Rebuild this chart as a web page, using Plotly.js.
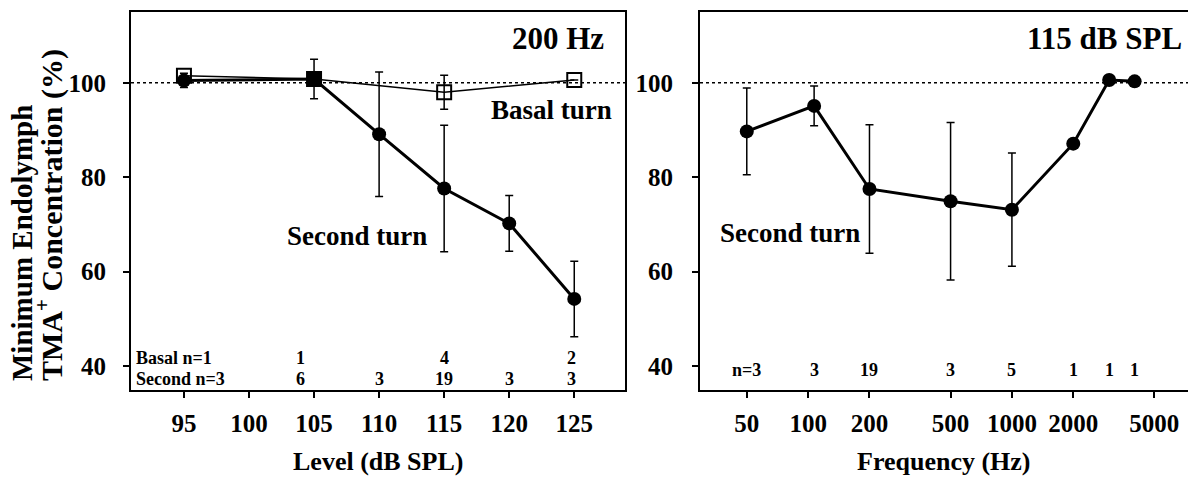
<!DOCTYPE html>
<html>
<head>
<meta charset="utf-8">
<script src="https://cdn.plot.ly/plotly-3.0.1.min.js"></script>
<style>html,body{margin:0;padding:0;background:#fff;}#plot{width:1188px;height:477px;}</style>
</head>
<body>
<div id="plot"></div>
<script>
// ---------- data ----------
var levelTicks = [95, 100, 105, 110, 115, 120, 125];
var secondLevels = [95, 105, 110, 115, 120, 125];
var secondMean   = [100.5, 100.8, 89.1, 77.6, 70.2, 54.2];
var secondErr    = [1.5, 4.2, 13.2, 13.4, 5.9, 8.0];
var secondN      = [3, 6, 3, 19, 3, 3];

var basalLevels = [95, 105, 115, 125];
var basalMean   = [101.5, 100.8, 98.0, 100.6];
var basalErr    = [null, null, 3.6, null];
var basalN      = [1, 1, 4, 2];

var freqTicks = [50, 100, 200, 500, 1000, 2000, 5000];
var freqs     = [50, 107, 200, 500, 1000, 2000, 3000, 4000];
var freqMean  = [89.7, 95.1, 77.5, 74.9, 73.1, 87.1, 100.6, 100.3];
var freqErr   = [9.2, 4.2, 13.6, 16.7, 12.0, null, null, null];
var freqN     = [3, 3, 19, 3, 5, 1, 1, 1];

var yTicks = [40, 60, 80, 100];

// ---------- styling helpers ----------
var FONT = 'Liberation Serif, Times New Roman, serif';
function f(size){ return {family: FONT, size: size, color: '#000', weight: 'bold'}; }
function px(x){ return x / 1188; }
function py(y){ return 1 - y / 477; }

var errStyle = {type: 'data', visible: true, thickness: 1.5, width: 4, color: '#000'};

var traces = [
  {
    x: basalLevels, y: basalMean, xaxis: 'x', yaxis: 'y', type: 'scatter', mode: 'lines+markers',
    line: {color: '#000', width: 1.5},
    marker: {symbol: ['square-open', 'square', 'square-open', 'square-open'], size: 14, color: '#000', line: {color: '#000', width: 2}},
    error_y: Object.assign({array: basalErr}, errStyle),
    hoverinfo: 'skip'
  },
  {
    x: secondLevels, y: secondMean, xaxis: 'x', yaxis: 'y', type: 'scatter', mode: 'lines+markers',
    line: {color: '#000', width: 3},
    marker: {symbol: 'circle', size: 14, color: '#000'},
    error_y: Object.assign({array: secondErr}, errStyle),
    hoverinfo: 'skip'
  },
  {
    x: freqs, y: freqMean, xaxis: 'x2', yaxis: 'y2', type: 'scatter', mode: 'lines+markers',
    line: {color: '#000', width: 3},
    marker: {symbol: 'circle', size: 14, color: '#000'},
    error_y: Object.assign({array: freqErr}, errStyle),
    hoverinfo: 'skip'
  }
];

var axisCommon = {
  showline: true, linecolor: '#000', linewidth: 2,
  ticks: 'outside', ticklen: 6, tickwidth: 2, tickcolor: '#000',
  showgrid: false, zeroline: false, tickfont: f(25), fixedrange: true
};
var yDomain = [1 - 390/477, 1 - 12/477];

var layout = {
  width: 1188, height: 477,
  margin: {l: 0, r: 0, t: 0, b: 0},
  paper_bgcolor: '#fff', plot_bgcolor: '#fff',
  showlegend: false,
  xaxis: Object.assign({}, axisCommon, {
    domain: [px(131), px(625)], range: [90.93, 128.9], anchor: 'y',
    tickvals: levelTicks, ticktext: levelTicks.map(String), mirror: true, ticklabelstandoff: 4
  }),
  yaxis: Object.assign({}, axisCommon, {
    domain: yDomain, range: [34.9, 115], anchor: 'x',
    tickvals: yTicks, ticktext: yTicks.map(String), mirror: true, ticklabelstandoff: 12
  }),
  xaxis2: Object.assign({}, axisCommon, {
    domain: [px(700), 1], type: 'log', range: [1.4694, 3.864], anchor: 'y2',
    tickvals: freqTicks, ticktext: freqTicks.map(String), mirror: true, ticklabelstandoff: 4
  }),
  yaxis2: Object.assign({}, axisCommon, {
    domain: yDomain, range: [34.9, 115], anchor: 'x2',
    tickvals: yTicks, ticktext: yTicks.map(String), mirror: false, ticklabelstandoff: 14
  }),
  shapes: [
    {type: 'line', xref: 'x domain', yref: 'y', x0: 0, x1: 1, y0: 100, y1: 100, layer: 'below',
     line: {color: '#000', width: 1.5, dash: 'dot'}},
    {type: 'line', xref: 'x2 domain', yref: 'y2', x0: 0, x1: 1, y0: 100, y1: 100, layer: 'below',
     line: {color: '#000', width: 1.5, dash: 'dot'}}
  ],
  annotations: []
};

var ann = layout.annotations;
function addText(text, x, y, size, opts){
  ann.push(Object.assign({text: text, xref: 'paper', yref: 'paper', x: x, y: y, showarrow: false,
    font: f(size), xanchor: 'center', yanchor: 'middle'}, opts || {}));
}
// axis titles
addText('Level (dB SPL)', px(378), py(461), 26);
addText('Frequency (Hz)', px(944), py(461), 26);
addText('Minimum Endolymph', px(22), py(383), 29, {textangle: -90, yanchor: 'bottom'});
addText('TMA<sup>+</sup> Concentration (%)', px(49), py(383), 30, {textangle: -90, yanchor: 'bottom'});
// panel labels
addText('200 Hz', px(606), py(38), 31, {xanchor: 'right'});
addText('115 dB SPL', px(1184), py(38), 31, {xanchor: 'right'});
addText('Basal turn', px(551), py(110), 27);
addText('Second turn', px(357), py(236), 27);
addText('Second turn', px(790), py(233), 27);

// n labels, left panel
addText('Basal n=' + basalN[0], px(134), py(358), 18, {xanchor: 'left'});
addText('Second n=' + secondN[0], px(134), py(379), 18, {xanchor: 'left'});
function shiftFor(lv){ return lv === 105 ? -14 : (lv === 125 ? -3 : 0); }
for (var i = 1; i < basalLevels.length; i++) {
  ann.push({text: String(basalN[i]), xref: 'x', yref: 'paper', x: basalLevels[i], y: py(358),
    xshift: shiftFor(basalLevels[i]), showarrow: false, font: f(18), xanchor: 'center', yanchor: 'middle'});
}
for (var j = 1; j < secondLevels.length; j++) {
  ann.push({text: String(secondN[j]), xref: 'x', yref: 'paper', x: secondLevels[j], y: py(379),
    xshift: shiftFor(secondLevels[j]), showarrow: false, font: f(18), xanchor: 'center', yanchor: 'middle'});
}
// n labels, right panel
for (var k = 0; k < freqs.length; k++) {
  ann.push({text: (k === 0 ? 'n=' : '') + freqN[k], xref: 'x2', yref: 'paper', x: Math.log10(freqs[k]), y: py(370),
    showarrow: false, font: f(18), xanchor: 'center', yanchor: 'middle'});
}

Plotly.newPlot('plot', traces, layout, {staticPlot: true, displayModeBar: false});
</script>
</body>
</html>
